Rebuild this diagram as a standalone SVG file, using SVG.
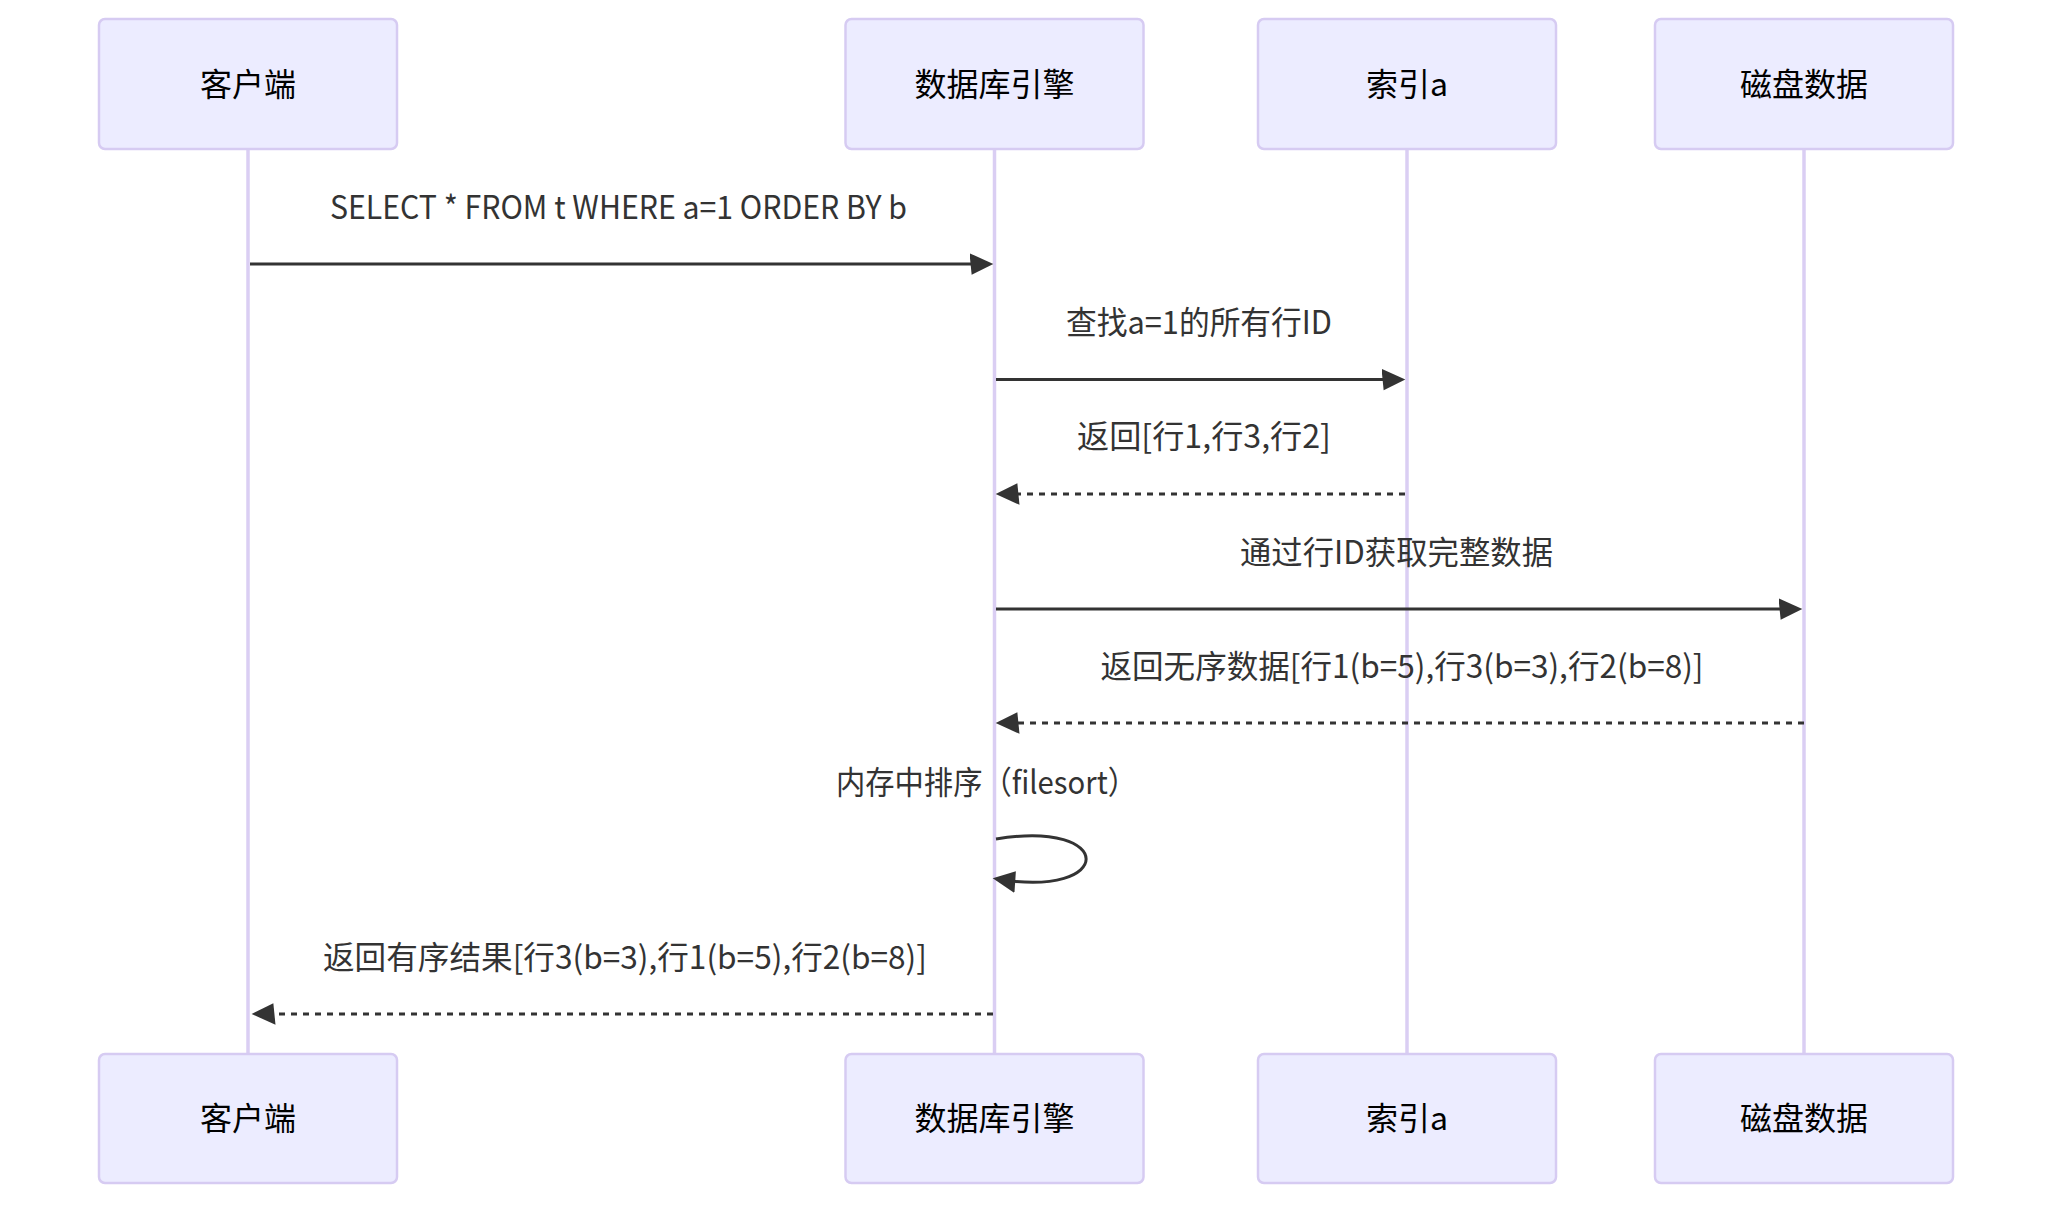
<svg xmlns="http://www.w3.org/2000/svg" width="2068" height="1214" viewBox="0 0 2068 1214">
  <style>
    .actor { fill: #ECECFF; stroke: #D6CBF2; stroke-width: 2.5; }
    .lifeline { stroke: #DACEF3; stroke-width: 3.5; fill: none; }
    .actor-text { font-family: "Noto Sans CJK SC", "Noto Sans", sans-serif; font-size: 32px; fill: #000; text-anchor: middle; dominant-baseline: central; }
    .msg-text { font-family: "Noto Sans CJK SC", "Noto Sans", sans-serif; font-size: 32px; fill: #333; text-anchor: middle; dominant-baseline: central; }
    .msg { stroke: #333; stroke-width: 3; fill: none; marker-end: url(#arrowhead); }
    .dashed { stroke-dasharray: 6 6; }
  </style>
  <defs>
    <marker id="arrowhead" markerUnits="userSpaceOnUse" markerWidth="26" markerHeight="26" viewBox="-2 0 24 20" refX="16" refY="10" orient="auto">
      <path d="M -2 0 L 20 10 L 0 20 z" fill="#333"/>
    </marker>
  </defs>
  <rect width="2068" height="1214" fill="#ffffff"/>

  <g id="lifelines">
    <line class="lifeline" x1="248" y1="149" x2="248" y2="1054"/>
    <line class="lifeline" x1="994.5" y1="149" x2="994.5" y2="1054"/>
    <line class="lifeline" x1="1407" y1="149" x2="1407" y2="1054"/>
    <line class="lifeline" x1="1804" y1="149" x2="1804" y2="1054"/>
  </g>

  <g id="actor-client-top">
    <rect class="actor" x="99" y="19" width="298" height="130" rx="6"/>
    <text class="actor-text" x="248" y="81.5">客户端</text>
  </g>
  <g id="actor-engine-top">
    <rect class="actor" x="845.5" y="19" width="298" height="130" rx="6"/>
    <text class="actor-text" x="994.5" y="81.5">数据库引擎</text>
  </g>
  <g id="actor-index-top">
    <rect class="actor" x="1258" y="19" width="298" height="130" rx="6"/>
    <text class="actor-text" x="1407" y="81.5">索引a</text>
  </g>
  <g id="actor-disk-top">
    <rect class="actor" x="1655" y="19" width="298" height="130" rx="6"/>
    <text class="actor-text" x="1804" y="81.5">磁盘数据</text>
  </g>

  <g id="actor-client-bottom">
    <rect class="actor" x="99" y="1054" width="298" height="129" rx="6"/>
    <text class="actor-text" x="248" y="1116">客户端</text>
  </g>
  <g id="actor-engine-bottom">
    <rect class="actor" x="845.5" y="1054" width="298" height="129" rx="6"/>
    <text class="actor-text" x="994.5" y="1116">数据库引擎</text>
  </g>
  <g id="actor-index-bottom">
    <rect class="actor" x="1258" y="1054" width="298" height="129" rx="6"/>
    <text class="actor-text" x="1407" y="1116">索引a</text>
  </g>
  <g id="actor-disk-bottom">
    <rect class="actor" x="1655" y="1054" width="298" height="129" rx="6"/>
    <text class="actor-text" x="1804" y="1116">磁盘数据</text>
  </g>

  <g id="connectors">
    <text class="msg-text" x="618.5" y="205" textLength="577" lengthAdjust="spacingAndGlyphs">SELECT * FROM t WHERE a=1 ORDER BY b</text>
    <line class="msg" x1="250" y1="264" x2="989" y2="264"/>

    <text class="msg-text" x="1199" y="320" textLength="266" lengthAdjust="spacingAndGlyphs">查找a=1的所有行ID</text>
    <line class="msg" x1="996" y1="379.5" x2="1401" y2="379.5"/>

    <text class="msg-text" x="1204" y="434" textLength="254" lengthAdjust="spacingAndGlyphs">返回[行1,行3,行2]</text>
    <line class="msg dashed" x1="1405" y1="494" x2="1000" y2="494"/>

    <text class="msg-text" x="1396.5" y="550" textLength="313" lengthAdjust="spacingAndGlyphs">通过行ID获取完整数据</text>
    <line class="msg" x1="996" y1="609" x2="1798" y2="609"/>

    <text class="msg-text" x="1402" y="664" textLength="603" lengthAdjust="spacingAndGlyphs">返回无序数据[行1(b=5),行3(b=3),行2(b=8)]</text>
    <line class="msg dashed" x1="1804" y1="723" x2="1000" y2="723"/>

    <text class="msg-text" x="986.5" y="780" textLength="301" lengthAdjust="spacingAndGlyphs">内存中排序（filesort）</text>
    <path class="msg" d="M 996,839 C 1116,819 1116,899 997,879"/>

    <text class="msg-text" x="625" y="955" textLength="604" lengthAdjust="spacingAndGlyphs">返回有序结果[行3(b=3),行1(b=5),行2(b=8)]</text>
    <line class="msg dashed" x1="993" y1="1014" x2="256" y2="1014"/>
  </g>
</svg>
